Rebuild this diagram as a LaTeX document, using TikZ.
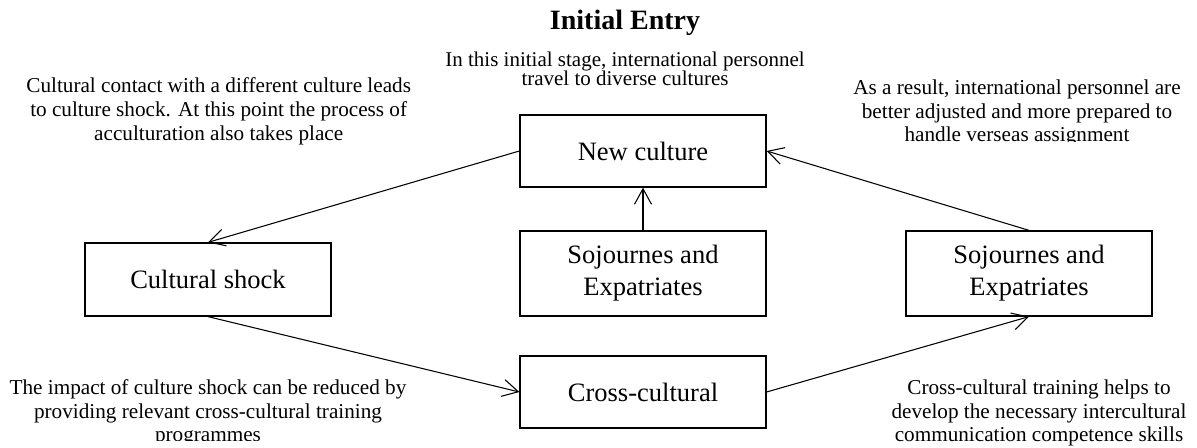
\documentclass[tikz,border=0pt]{standalone}
\usepackage{fontspec}
\setmainfont{Liberation Serif}
\usetikzlibrary{arrows.meta}
\tikzset{
  box/.style={draw, line width=0.95pt, minimum width=184.5pt, inner sep=0pt, align=center,
    font=\fontsize{19.9}{24}\selectfont},
  note/.style={align=center, inner sep=0pt, font=\fontsize{15.9}{17.8}\selectfont},
  topnote/.style={align=center, inner sep=0pt, font=\fontsize{15.75}{14.5}\selectfont},
  conn/.style={line width=0.8pt, -{Straight Barb[length=11.7pt,width=12.8pt,line width=0.8pt]}}
}
\begin{document}
\begin{tikzpicture}[x=0.75pt,y=-0.75pt]
\useasboundingbox (0,0) rectangle (1197,448);
\node[font=\fontsize{21}{24}\selectfont\bfseries, anchor=base, inner sep=0pt] (title) at (625,30) {Initial Entry};
\node[topnote] (topt) at (625,68.5) {In this initial stage, international personnel\\travel to diverse cultures};
\node[note] (lt) at (218.7,111.3) {Cultural contact with a different culture leads\\to culture shock. At this point the process of\\acculturation also takes place};
\begin{scope}
\clip (800,0) rectangle (1197,142);
\node[note] (rt) at (1017,113) {As a result, international personnel are\\better adjusted and more prepared to\\handle verseas assignment};
\end{scope}
\begin{scope}
\clip (0,300) rectangle (500,441);
\node[note] (lb) at (208,413) {The impact of culture shock can be reduced by\\providing relevant cross-cultural training\\programmes};
\end{scope}
\node[note] (rb) at (1039,413) {Cross-cultural training helps to\\develop the necessary intercultural\\communication competence skills};

\node[box, minimum height=54pt] (newc) at (643,151) {New culture};
\node[box, minimum height=54.75pt] (shock) at (208,279.5) {Cultural shock};
\node[box, minimum height=63.75pt] (sojm) at (643,273.5) {Sojournes and\\Expatriates};
\node[box, minimum height=63.75pt] (sojr) at (1029,273.5) {Sojournes and\\Expatriates};
\node[box, minimum height=54pt] (cross) at (643,392) {Cross-cultural};

\draw[conn] (newc.west) -- (shock.north);
\draw[conn] (shock.south) -- (cross.west);
\draw[conn] (cross.east) -- (sojr.south);
\draw[conn] (sojr.north) -- (newc.east);
\draw[conn] (sojm.north) -- (newc.south);
\end{tikzpicture}
\end{document}
